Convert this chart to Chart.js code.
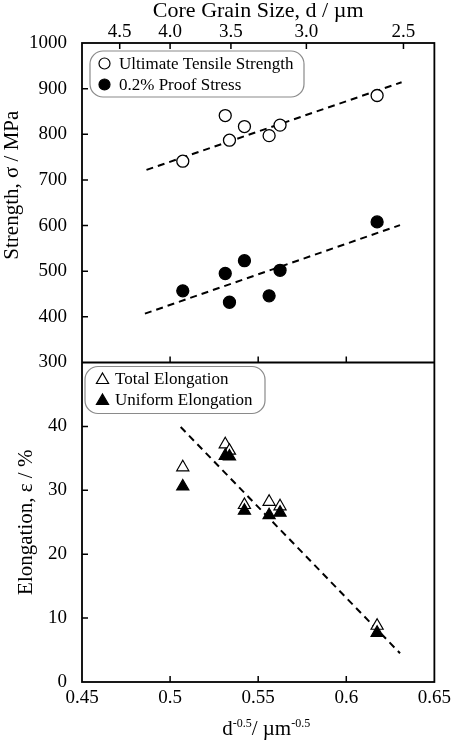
<!DOCTYPE html>
<html>
<head>
<meta charset="utf-8">
<script src="https://cdn.jsdelivr.net/npm/chart.js@4.4.1/dist/chart.umd.min.js"></script>
<style>html,body{margin:0;padding:0;background:#fff}canvas{display:block}</style>
</head>
<body>
<canvas id="c" width="456" height="742"></canvas>
<script>
// ---- data ----
const dInvSqrt      = [0.5072, 0.5313, 0.5337, 0.5422, 0.5562, 0.5624, 0.6175]; // d^-0.5 / um^-0.5
const utsValues     = [741, 841, 787, 817, 797, 820, 885];   // MPa
const proofValues   = [457, 495, 432, 523, 446, 502, 608];   // MPa
const totalElong    = [33.6, 37.2, 36.2, 27.7, 28.2, 27.5, 8.8]; // %
const uniformElong  = [30.6, 35.4, 35.3, 26.8, 26.1, 26.5, 7.7]; // %

const utsTrendX   = [0.4866, 0.6314];
const utsTrendY   = [722, 914];
const proofTrendX = [0.4857, 0.6305];
const proofTrendY = [407, 601];
const elongTrendX = [0.5060, 0.6305];
const elongTrendY = [39.9, 4.5];

const grainSizes  = [4.5, 4.0, 3.5, 3.0, 2.5];          // top axis, d / um
const grainLabels = ['4.5', '4.0', '3.5', '3.0', '2.5'];
const xTickLabels = ['0.45', '0.5', '0.55', '0.6', '0.65'];
const strengthTicks = [300, 400, 500, 600, 700, 800, 900, 1000];
const elongTicks    = [0, 10, 20, 30, 40, 50];

const seriesLabels = ['Ultimate Tensile Strength', '0.2% Proof Stress', 'Total Elongation', 'Uniform Elongation'];

// ---- helpers ----
const FONT = "'Liberation Serif','Times New Roman',serif";
const pts = (xs, ys) => xs.map((x, i) => ({x, y: ys[i]}));

const TICK_FONT = {family: FONT, size: 19};

function drawMarker(ctx, style, filled, r, x, y) {
  ctx.beginPath();
  if (style === 'circle') {
    ctx.arc(x, y, r, 0, Math.PI * 2);
  } else {
    for (let k = 0; k < 3; k++) {
      const a = k * 2 * Math.PI / 3;
      const px = x + Math.sin(a) * r, py = y - Math.cos(a) * r;
      if (k === 0) ctx.moveTo(px, py); else ctx.lineTo(px, py);
    }
    ctx.closePath();
  }
  ctx.fillStyle = filled ? '#000' : '#fff';
  ctx.fill();
  ctx.lineWidth = 1.2;
  ctx.strokeStyle = '#000';
  ctx.stroke();
}

const framePlugin = {
  id: 'frame',
  beforeDraw(chart) {
    const {ctx, width, height} = chart;
    ctx.save();
    ctx.fillStyle = '#fff';
    ctx.fillRect(0, 0, width, height);
    ctx.restore();
  },
  afterDraw(chart) {
    const {ctx, chartArea: ca, scales} = chart;
    const yS = scales.yS, yE = scales.yE, x = scales.x, x2 = scales.x2;
    ctx.save();
    // frame + divider
    ctx.strokeStyle = '#000';
    ctx.lineWidth = 1.8;
    ctx.strokeRect(ca.left, ca.top, ca.right - ca.left, ca.bottom - ca.top);
    ctx.beginPath();
    ctx.moveTo(ca.left, yS.bottom); ctx.lineTo(ca.right, yS.bottom);
    ctx.stroke();
    // inward ticks
    const T = 6;
    ctx.lineWidth = 1.5;
    ctx.beginPath();
    [yS, yE].forEach(s => s.ticks.forEach(t => {
      const p = s.getPixelForValue(t.value);
      if (p > s.top + 1 && p < s.bottom - 1) { ctx.moveTo(ca.left, p); ctx.lineTo(ca.left + T, p); }
    }));
    x.ticks.forEach(t => {
      const p = x.getPixelForValue(t.value);
      if (p > ca.left + 1 && p < ca.right - 1) {
        ctx.moveTo(p, yE.bottom); ctx.lineTo(p, yE.bottom - T);
        ctx.moveTo(p, yS.bottom); ctx.lineTo(p, yS.bottom - T);
      }
    });
    x2.ticks.forEach(t => {
      const p = x2.getPixelForValue(t.value);
      if (p > ca.left + 1 && p < ca.right - 1) { ctx.moveTo(p, ca.top); ctx.lineTo(p, ca.top + T); }
    });
    ctx.stroke();

    // y axis titles
    ctx.fillStyle = '#000';
    ctx.font = `21px ${FONT}`;
    ctx.textAlign = 'center';
    ctx.textBaseline = 'middle';
    ctx.save();
    ctx.translate(12, yS.top + (yS.bottom - yS.top) * 0.445);
    ctx.rotate(-Math.PI / 2);
    ctx.fillText('Strength, σ / MPa', 0, 0);
    ctx.restore();
    ctx.save();
    ctx.translate(26, (yE.top + yE.bottom) / 2);
    ctx.rotate(-Math.PI / 2);
    ctx.fillText('Elongation, ε / %', 0, 0);
    ctx.restore();

    // bottom x title with superscripts
    const parts = [['d', 21, 0], ['-0.5', 12, -8], ['/ µm', 21, 0], ['-0.5', 12, -8]];
    let total = 0;
    parts.forEach(p => { ctx.font = `${p[1]}px ${FONT}`; p.w = ctx.measureText(p[0]).width; total += p.w; });
    let cx = (ca.left + ca.right) / 2 - total / 2 + 8;
    const base = chart.height - 7;
    ctx.textAlign = 'left';
    ctx.textBaseline = 'alphabetic';
    parts.forEach(p => { ctx.font = `${p[1]}px ${FONT}`; ctx.fillText(p[0], cx, base + p[2]); cx += p.w; });

    // legends
    const ds = chart.data.datasets;
    function legend(bx, by, bw, bh, items) {
      ctx.beginPath();
      ctx.roundRect(bx, by, bw, bh, 13);
      ctx.fillStyle = '#fff';
      ctx.fill();
      ctx.lineWidth = 1.2;
      ctx.strokeStyle = '#8a8a8a';
      ctx.stroke();
      items.forEach((it, i) => {
        const yy = by + 12.5 + i * 21;
        drawMarker(ctx, it.style, it.filled, it.r, bx + it.mx, yy + (it.style === 'triangle' ? 1 : 0));
        ctx.fillStyle = '#000';
        ctx.font = `17px ${FONT}`;
        ctx.textAlign = 'left';
        ctx.textBaseline = 'middle';
        ctx.fillText(it.label, bx + it.tx, yy + 1);
      });
    }
    legend(ca.left + 8, ca.top + 8, 214, 46, [
      {style: 'circle', filled: false, r: 5.5, mx: 14.5, tx: 29, label: ds[0].label},
      {style: 'circle', filled: true, r: 5.5, mx: 14.5, tx: 29, label: ds[1].label}
    ]);
    legend(ca.left + 3, yS.bottom + 4, 180, 47, [
      {style: 'triangle', filled: false, r: 7, mx: 17.5, tx: 30, label: ds[2].label},
      {style: 'triangle', filled: true, r: 7, mx: 17.5, tx: 30, label: ds[3].label}
    ]);
    ctx.restore();
  }
};

const trendStyle = {showLine: true, borderColor: '#000', borderWidth: 2, borderDash: [7, 5], pointRadius: 0, fill: false, order: 3};

new Chart(document.getElementById('c'), {
  type: 'scatter',
  data: {
    datasets: [
      {label: seriesLabels[0], data: pts(dInvSqrt, utsValues), yAxisID: 'yS', pointStyle: 'circle', pointRadius: 6,
       backgroundColor: '#fff', borderColor: '#000', borderWidth: 1.3, order: 1},
      {label: seriesLabels[1], data: pts(dInvSqrt, proofValues), yAxisID: 'yS', pointStyle: 'circle', pointRadius: 6,
       backgroundColor: '#000', borderColor: '#000', borderWidth: 1.3, order: 1},
      {label: seriesLabels[2], data: pts(dInvSqrt, totalElong), yAxisID: 'yE', pointStyle: 'triangle', pointRadius: 7,
       backgroundColor: '#fff', borderColor: '#000', borderWidth: 1.2, order: 2},
      {label: seriesLabels[3], data: pts(dInvSqrt, uniformElong), yAxisID: 'yE', pointStyle: 'triangle', pointRadius: 7,
       backgroundColor: '#000', borderColor: '#000', borderWidth: 1.2, order: 1},
      Object.assign({label: 'UTS trend', data: pts(utsTrendX, utsTrendY), yAxisID: 'yS'}, trendStyle),
      Object.assign({label: 'Proof trend', data: pts(proofTrendX, proofTrendY), yAxisID: 'yS'}, trendStyle),
      Object.assign({label: 'Elongation trend', data: pts(elongTrendX, elongTrendY), yAxisID: 'yE'}, trendStyle)
    ]
  },
  options: {
    responsive: false,
    animation: false,
    events: [],
    layout: {padding: {left: 0, right: 16, top: 0, bottom: 0}},
    plugins: {legend: {display: false}, tooltip: {enabled: false}},
    scales: {
      x: {
        type: 'linear', position: 'bottom', min: 0.45, max: 0.65,
        afterBuildTicks: s => { s.ticks = xTickLabels.map(l => ({value: parseFloat(l)})); },
        ticks: {callback: (v, i) => xTickLabels[i], font: TICK_FONT, color: '#000', padding: 5, autoSkip: false, maxRotation: 0},
        grid: {display: false, drawTicks: false},
        border: {display: false},
        afterFit: s => { s.height = 60; }
      },
      x2: {
        type: 'linear', position: 'top', min: 0.45, max: 0.65,
        afterBuildTicks: s => { s.ticks = grainSizes.map(d => ({value: 1 / Math.sqrt(d)})); },
        ticks: {callback: (v, i) => grainLabels[i], font: TICK_FONT, color: '#000', padding: 0, autoSkip: false, maxRotation: 0},
        grid: {display: false, drawTicks: false},
        border: {display: false},
        title: {display: true, text: 'Core Grain Size, d / µm', color: '#000', font: {family: FONT, size: 22}, padding: {top: -2, bottom: 0}},
        afterFit: s => { s.height = 43; }
      },
      yE: {
        type: 'linear', position: 'left', stack: 'v', stackWeight: 1, min: 0, max: 50, offset: false,
        afterBuildTicks: s => { s.ticks = elongTicks.map(v => ({value: v})); },
        ticks: {callback: v => (v === 50 ? '' : String(v)), font: TICK_FONT, color: '#000', padding: 15, autoSkip: false},
        grid: {display: false, drawTicks: false},
        border: {display: false},
        afterFit: s => { s.width = 82; }
      },
      yS: {
        type: 'linear', position: 'left', stack: 'v', stackWeight: 1, min: 300, max: 1000, offset: false,
        afterBuildTicks: s => { s.ticks = strengthTicks.map(v => ({value: v})); },
        ticks: {callback: v => String(v), font: TICK_FONT, color: '#000', padding: 15, autoSkip: false},
        grid: {display: false, drawTicks: false},
        border: {display: false},
        afterFit: s => { s.width = 82; }
      }
    }
  },
  plugins: [framePlugin]
});
</script>
</body>
</html>
